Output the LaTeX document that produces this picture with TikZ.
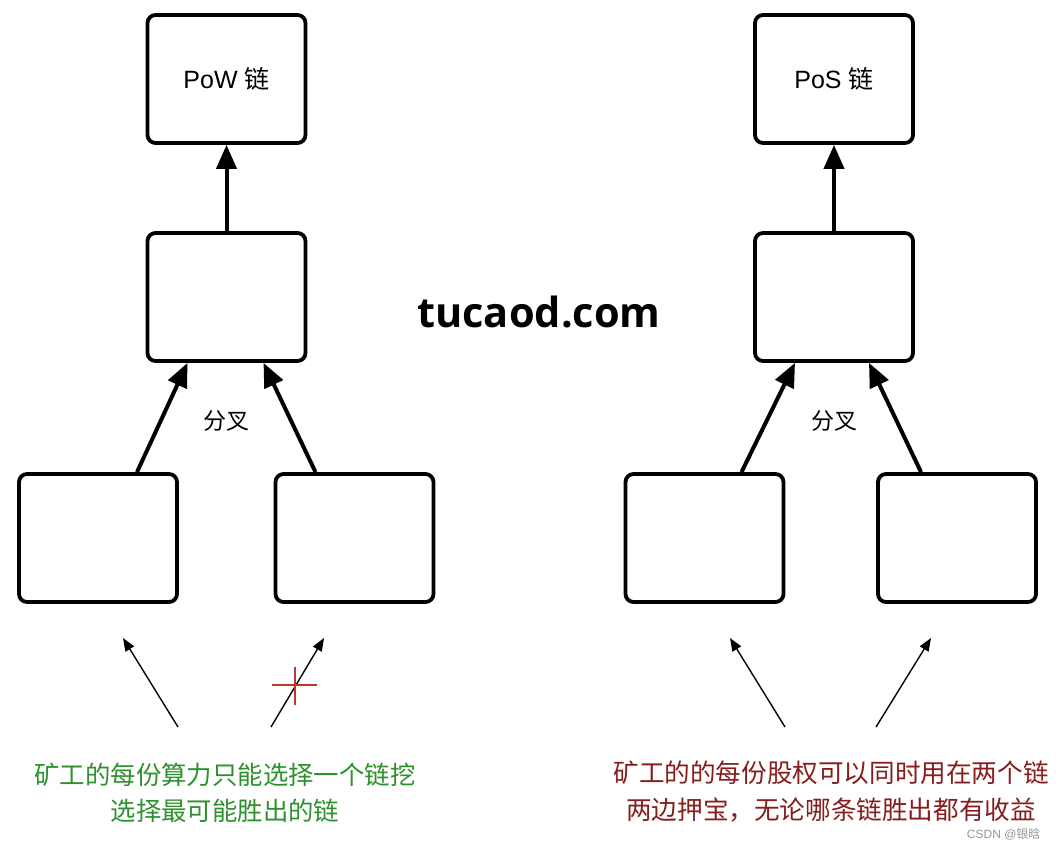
\documentclass[tikz,border=0pt]{standalone}
\usepackage{fontspec}
\setmainfont{Liberation Sans}
\newfontfamily\cjk{Noto Sans CJK SC}
\newfontfamily\wm{Open Sans}
\usetikzlibrary{arrows.meta}
\definecolor{mygreen}{RGB}{45,145,45}
\definecolor{myred}{RGB}{135,30,30}
\definecolor{crossred}{RGB}{190,55,45}
\definecolor{wmgray}{RGB}{150,150,150}
\tikzset{
  blk/.style={draw=black, line width=3.8pt, rounded corners=8pt, minimum width=158pt, minimum height=128pt, inner sep=0pt, fill=white},
  thick arr/.style={line width=4pt, -{Triangle[length=24pt,width=20pt]}},
  thin arr/.style={line width=1.4pt, -{Triangle[length=13pt,width=10pt]}},
  captxt/.style={align=center},
  forklbl/.style={font=\cjk\fontsize{23}{27}\selectfont},
  boxlbl/.style={font=\fontsize{25}{30}\selectfont},
}
\begin{document}
\begin{tikzpicture}[x=1pt,y=-1pt]
\useasboundingbox[fill=white] (0,0) rectangle (1059,850);
% left group
\node[blk, boxlbl] (pow) at (226.5,79) {PoW {\cjk 链}};
\node[blk] (lm) at (226.5,297) {};
\node[blk] (ll) at (98,538) {};
\node[blk] (lr) at (354.5,538) {};
\draw[thick arr] (lm.north) -- (pow.south);
\draw[thick arr] ([xshift=39pt]ll.north) -- ([xshift=-39pt]lm.south);
\draw[thick arr] ([xshift=-39pt]lr.north) -- ([xshift=37pt]lm.south);
\node[forklbl] (fl) at (226,421) {分叉};
\coordinate (a1s) at (178,727); \coordinate (a1t) at (123,638);
\coordinate (a2s) at (271,727); \coordinate (a2t) at (324,638);
\draw[thin arr] (a1s) -- (a1t);
\draw[thin arr] (a2s) -- (a2t);
\coordinate (xc) at (295,685);
\draw[crossred, line width=2pt] ([xshift=-23pt]xc) -- ([xshift=22pt]xc);
\draw[crossred, line width=2pt] ([yshift=-20pt]xc) -- ([yshift=18pt]xc);
\node[captxt, text=mygreen, font=\cjk\fontsize{25.4}{36}\selectfont] (gt) at (225,793) {矿工的每份算力只能选择一个链挖\\选择最可能胜出的链};
% right group
\node[blk, boxlbl] (pos) at (834,79) {PoS {\cjk 链}};
\node[blk] (rm) at (834,297) {};
\node[blk] (rl) at (704.5,538) {};
\node[blk] (rr) at (957,538) {};
\draw[thick arr] (rm.north) -- (pos.south);
\draw[thick arr] ([xshift=37pt]rl.north) -- ([xshift=-39pt]rm.south);
\draw[thick arr] ([xshift=-36pt]rr.north) -- ([xshift=35pt]rm.south);
\node[forklbl] (fr) at (834,421) {分叉};
\coordinate (b1s) at (785,727); \coordinate (b1t) at (730,638);
\coordinate (b2s) at (876,727); \coordinate (b2t) at (931,638);
\draw[thin arr] (b1s) -- (b1t);
\draw[thin arr] (b2s) -- (b2t);
\node[captxt, text=myred, font=\cjk\fontsize{25.6}{37}\selectfont] (rt) at (831,792) {矿工的的每份股权可以同时用在两个链\\两边押宝，无论哪条链胜出都有收益};
% watermark
\node[font=\wm\bfseries\fontsize{41.5}{46}\selectfont] (wmk) at (539,312) {tucaod.com};
\node[text=wmgray, font=\fontsize{12}{14}\selectfont, anchor=east] (csdn) at (1044,834) {CSDN @{\cjk 银晗}};
\end{tikzpicture}
\end{document}
